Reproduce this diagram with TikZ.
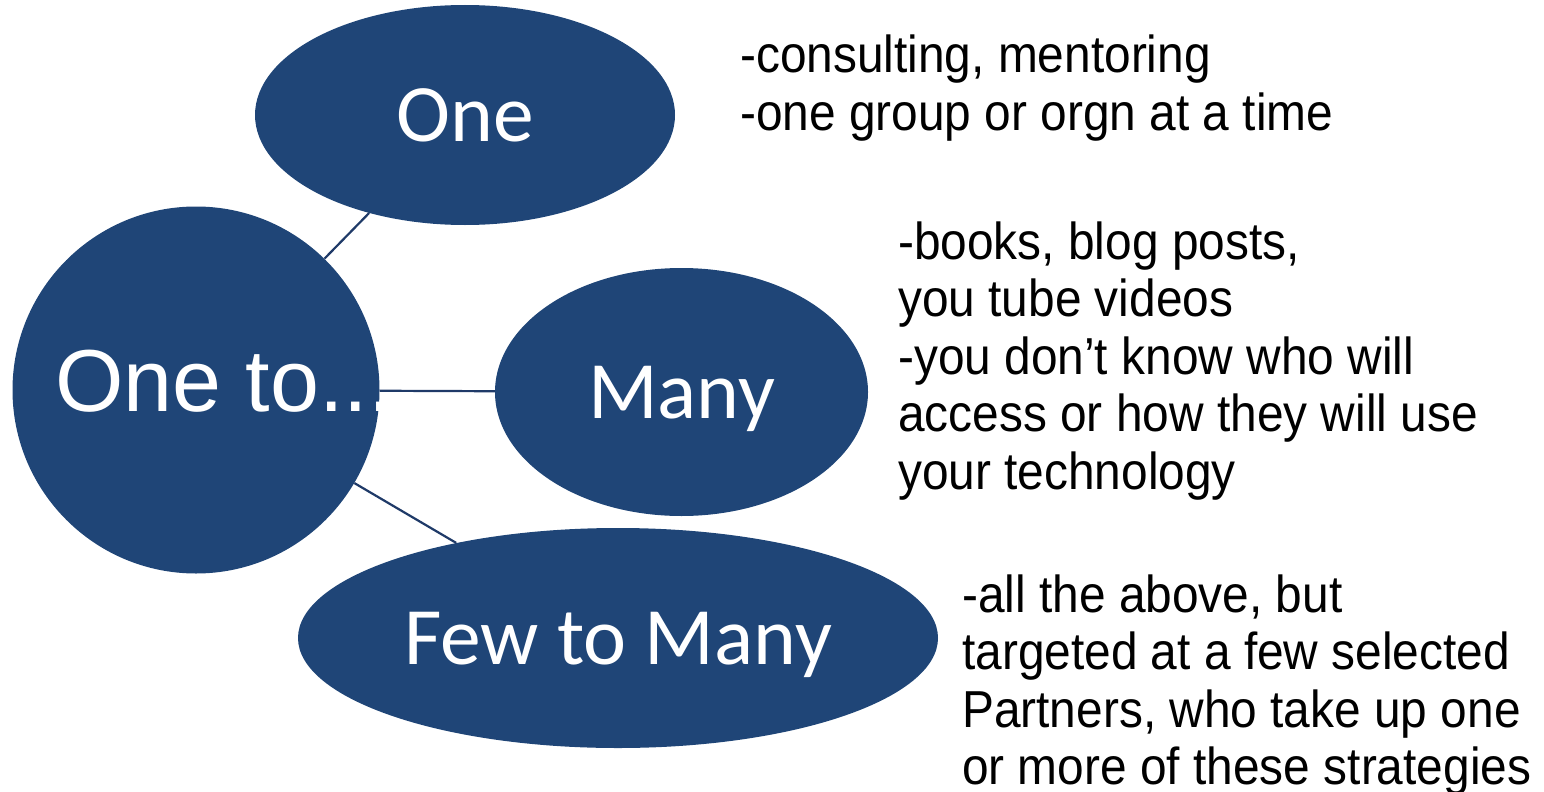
\documentclass[tikz,border=0pt]{standalone}
\usepackage{fontspec}
\setmainfont{Liberation Sans}
\newfontfamily\calfont{Carlito}
\newfontfamily\arfont{Liberation Sans}
\newfontfamily\notefont[FakeStretch=0.92]{Liberation Sans}
\definecolor{blobblue}{HTML}{1F4577}
\definecolor{linkblue}{HTML}{1F3A68}
\tikzset{
  blob/.style={ellipse, fill=blobblue, draw=none, inner sep=0pt, text=white,
    font=\calfont\fontsize{81.5}{96}\selectfont, text height=52pt, text depth=0pt},
  hub/.style={circle, fill=blobblue, draw=none, inner sep=0pt, minimum size=367pt},
  hubtext/.style={anchor=base west, inner sep=0pt, text=white,
    font=\arfont\fontsize{88}{100}\selectfont},
  note/.style={anchor=base west, inner sep=0pt, text=black,
    font=\notefont\fontsize{52}{57.5}\selectfont},
  link/.style={draw=linkblue, line width=2.2pt}
}
\usetikzlibrary{shapes.geometric}
\begin{document}
\begin{tikzpicture}[x=1pt,y=-1pt]
\useasboundingbox (0,0) rectangle (1544,792);
\node[hub] (hub) at (196,390) {};
\node[blob, minimum width=420pt, minimum height=220pt] (one) at (465,115) {One};
\node[blob, minimum width=373pt, minimum height=248pt] (many) at (681.5,392) {Many};
\node[blob, minimum width=640pt, minimum height=220pt] (few) at (618,638) {Few to Many};
\node[hubtext] (hubt) at (55,411) {One to...};
\draw[link] (hub) -- (one);
\draw[link] (hub) -- (many);
\draw[link] (hub) -- (few);
% notes for One
\node[note] (n1a) at (740,72) {-consulting, mentoring};
\node[note] (n1b) at (740,130) {-one group or orgn at a time};
% notes for Many
\node[note] (n2a) at (898,259) {-books, blog posts,};
\node[note] (n2b) at (898,316.5) {you tube videos};
\node[note] (n2c) at (898,374) {-you don’t know who will};
\node[note] (n2d) at (898,431.5) {access or how they will use};
\node[note] (n2e) at (898,489) {your technology};
% notes for Few to Many
\node[note] (n3a) at (962,612) {-all the above, but};
\node[note] (n3b) at (962,669.5) {targeted at a few selected};
\node[note] (n3c) at (962,727) {Partners, who take up one};
\node[note] (n3d) at (962,784.5) {or more of these strategies};
\end{tikzpicture}
\end{document}
